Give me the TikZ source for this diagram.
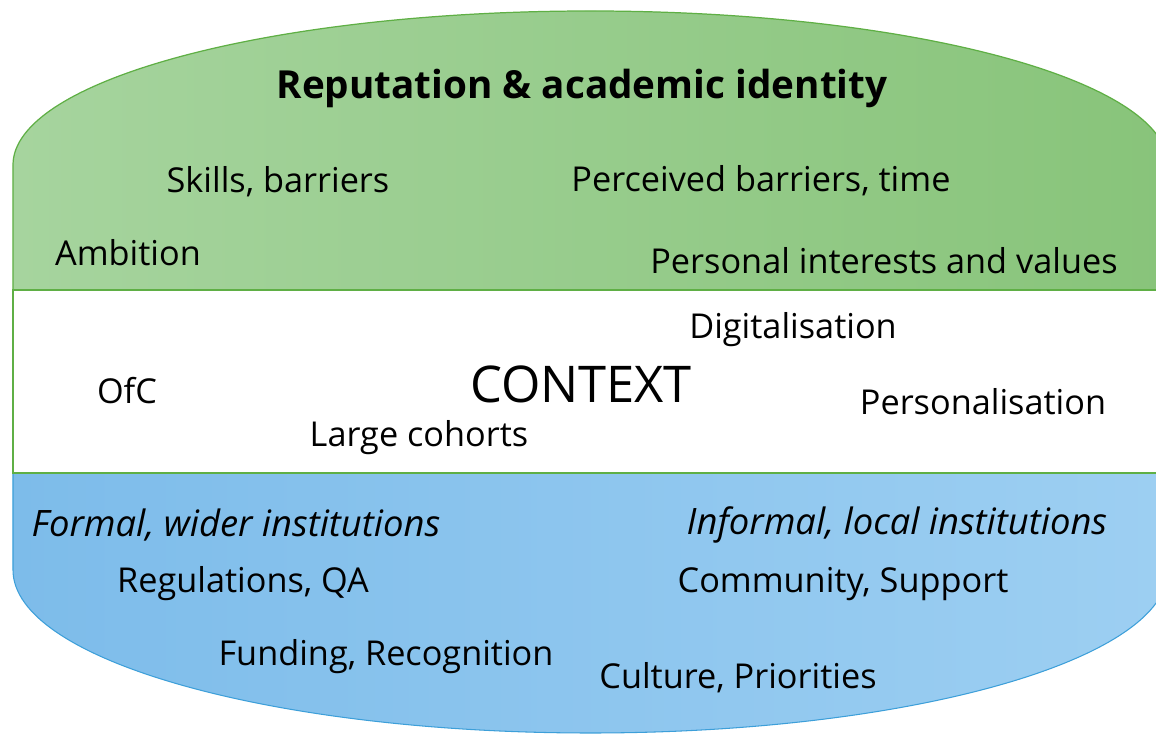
\documentclass[tikz,border=0pt]{standalone}
\usepackage{fontspec}
\setmainfont{Open Sans}
\definecolor{topL}{HTML}{A6D49E}
\definecolor{topR}{HTML}{88C47A}
\definecolor{botL}{HTML}{7DBCEA}
\definecolor{botR}{HTML}{9DCFF2}
\definecolor{greenline}{HTML}{5FAF45}
\definecolor{blueline}{HTML}{3D9FD9}
\begin{document}
\begin{tikzpicture}
    [thick,
    item/.style = {font=\fontsize{19.5}{23}\selectfont},
    head/.style = {font=\fontsize{22}{26}\selectfont\bfseries},
    inst/.style = {font=\fontsize{20.7}{24}\selectfont\itshape}]
    \useasboundingbox (0,0) rectangle (23.12,14.72);
    \clip (0,0) rectangle (23.12,14.72);
    % Capa personal (arriba)
    \shade[left color=topL, right color=topR] (0.26,8.92) -- (0.26,11.42)
        arc[start angle=180, end angle=0, x radius=11.55cm, y radius=3.08cm]
        -- (23.36,8.92) -- cycle;
    \draw[greenline, line width=0.7pt] (0.26,8.92) -- (0.26,11.42)
        arc[start angle=180, end angle=0, x radius=11.55cm, y radius=3.08cm]
        -- (23.36,8.92);
    % Capa institucional (abajo)
    \shade[left color=botL, right color=botR] (0.26,5.26) -- (0.26,3.32)
        arc[start angle=180, end angle=360, x radius=11.55cm, y radius=3.26cm]
        -- (23.36,5.26) -- cycle;
    \draw[blueline, line width=0.6pt] (0.26,5.26) -- (0.26,3.32)
        arc[start angle=180, end angle=360, x radius=11.55cm, y radius=3.26cm]
        -- (23.36,5.26);
    % Contexto (centro)
    \draw[fill=white, draw=greenline, line width=1.2pt] (0.26,5.26) rectangle (23.6,8.92);
    \node[head] (reputation) at (11.64,12.96) {Reputation \& academic identity};
    \node[item] (skills) at (5.56,11.08) {Skills, barriers};
    \node[item] (perceived) at (15.22,11.1) {Perceived barriers, time};
    \node[item] (ambition) at (2.56,9.66) {Ambition};
    \node[item] (interests) at (17.68,9.5) {Personal interests and values};
    \node[item] (digital) at (15.86,8.12) {Digitalisation};
    \node[item] (ofc) at (2.54,6.9) {OfC};
    \node[font=\fontsize{28.8}{32}\selectfont] (context) at (11.62,7.04) {CONTEXT};
    \node[item] (personal) at (19.66,6.68) {Personalisation};
    \node[item] (cohorts) at (8.38,5.96) {Large cohorts};
    \node[inst] (formal) at (4.72,4.22) {Formal, wider institutions};
    \node[inst] (informal) at (17.94,4.22) {Informal, local institutions};
    \node[item] (regulations) at (4.86,3.04) {Regulations, QA};
    \node[item] (community) at (16.86,3.04) {Community, Support};
    \node[item] (funding) at (7.72,1.58) {Funding, Recognition};
    \node[item] (culture) at (14.76,1.16) {Culture, Priorities};
\end{tikzpicture}
\end{document}
